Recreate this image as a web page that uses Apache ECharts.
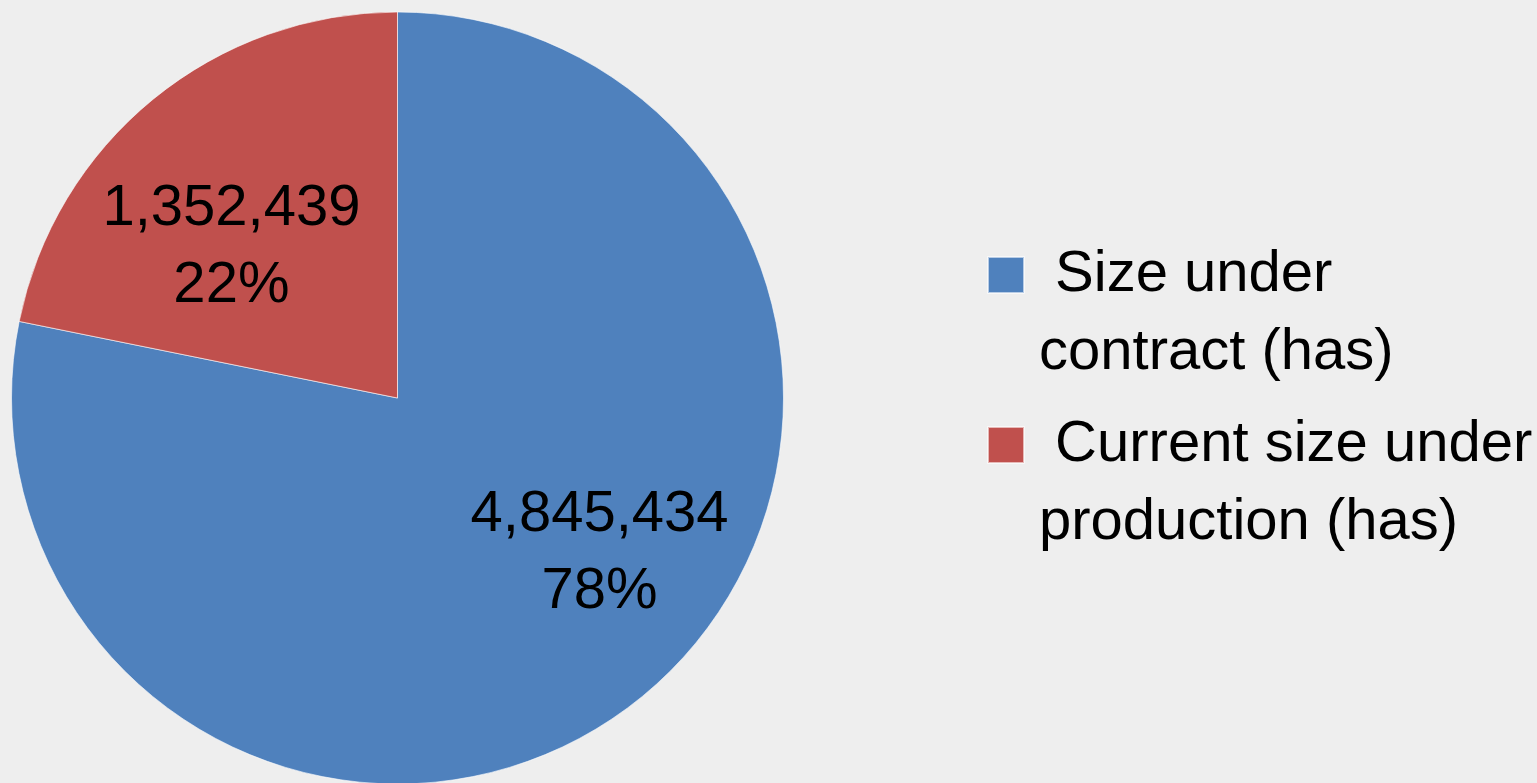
<!DOCTYPE html>
<html>
<head>
<meta charset="utf-8">
<script src="https://cdn.jsdelivr.net/npm/echarts@6/dist/echarts.min.js"></script>
<style>
html,body{margin:0;padding:0;background:#eeeeee;}
#chart{width:1537px;height:783px;}
</style>
</head>
<body>
<div id="chart"></div>
<script>
const categories = ['Size under contract (has)', 'Current size under production (has)'];
const legendLabels = [' Size under\ncontract (has)', ' Current size under\nproduction (has)'];
const values = [4845434, 1352439];
const percentLabels = ['78%', '22%'];
const colors = ['#4f81bd', '#c0504d'];

const labelShift = [[78, 4], [-42, 1]];

const chart = echarts.init(document.getElementById('chart'));
const FONT = 'Liberation Sans';
chart.setOption({
  backgroundColor: '#eeeeee',
  animation: false,
  legend: {
    orient: 'vertical',
    left: 987,
    top: 158,
    padding: 0,
    itemGap: -64,
    itemWidth: 36,
    itemHeight: 36,
    icon: 'rect',
    selectedMode: false,
    data: categories,
    formatter: function (name) { return ' \n' + legendLabels[categories.indexOf(name)]; },
    textStyle: {
      fontFamily: FONT,
      fontSize: 58,
      lineHeight: 78,
      color: '#000000',
      padding: [0, 0, 0, 10]
    }
  },
  series: [{
    type: 'pie',
    center: [397.5, 398],
    radius: 386,
    startAngle: 90,
    clockwise: true,
    silent: true,
    itemStyle: { borderColor: 'rgba(255,255,255,0.6)', borderWidth: 1 },
    label: {
      show: true,
      position: 'inside',
      fontFamily: FONT,
      fontSize: 58,
      lineHeight: 77,
      color: '#000000',
      formatter: function (p) {
        return p.value.toLocaleString('en-US') + '\n' + percentLabels[p.dataIndex];
      }
    },
    labelLine: { show: false },
    labelLayout: function (p) {
      return { dx: labelShift[p.dataIndex][0], dy: labelShift[p.dataIndex][1] };
    },
    data: categories.map(function (c, i) {
      return { name: c, value: values[i], itemStyle: { color: colors[i] } };
    })
  }]
});
</script>
</body>
</html>
